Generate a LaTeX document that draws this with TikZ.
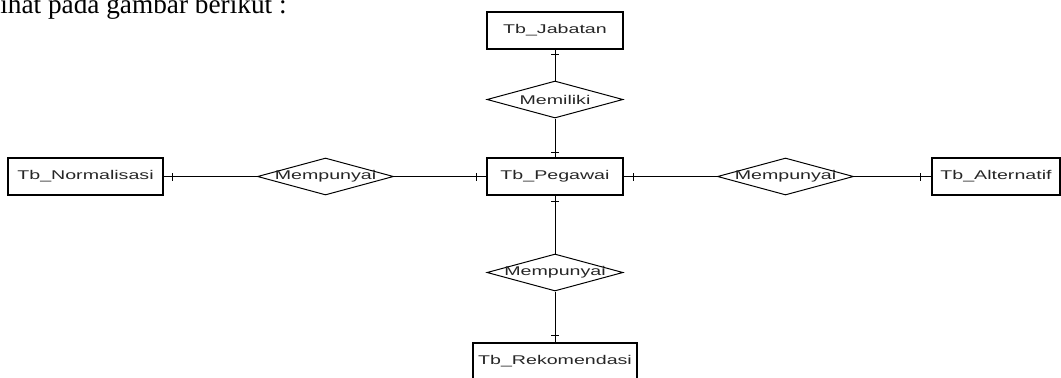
\documentclass[tikz,border=0pt]{standalone}
\usepackage{fontspec}
\usetikzlibrary{shapes.geometric,decorations.markings}
\newfontfamily\erfont[FakeStretch=1.55]{Liberation Sans}
\newfontfamily\halfont{Liberation Serif}

\tikzset{
  tabel/.style={draw, line width=0.8pt, inner sep=0pt, minimum width=3.4cm, minimum height=0.925cm,
    font=\erfont\fontsize{9}{11}\selectfont, text=black!85},
  relasi/.style={draw, shape=diamond, line width=0.7pt, inner sep=0pt, minimum width=3.4cm, minimum height=0.925cm,
    font=\erfont\fontsize{9}{11}\selectfont, text=black!85},
  garis/.style={line width=0.7pt},
  satuawal/.style={postaction={decorate,decoration={markings,
    mark=at position #1 with {\draw[line width=0.7pt] (0,-0.1cm) -- (0,0.1cm);}}}},
  satuakhir/.style={postaction={decorate,decoration={markings,
    mark=at position -#1 with {\draw[line width=0.7pt] (0,-0.1cm) -- (0,0.1cm);}}}}
}

\begin{document}
\begin{tikzpicture}[x=0.025cm,y=-0.025cm]
\useasboundingbox (0,0) rectangle (1061,377);

% teks halaman
\node[anchor=base west, inner sep=0pt, font=\halfont\fontsize{19.4}{23}\selectfont] (teks) at (0,13) {ihat pada gambar berikut :};

% tabel
\node[tabel] (jabatan) at (555,30.5) {Tb\_Jabatan};
\node[tabel] (pegawai) at (555,176.5) {Tb\_Pegawai};
\node[tabel, minimum width=3.875cm] (normalisasi) at (85.5,176.5) {Tb\_Normalisasi};
\node[tabel, minimum width=3.2cm] (alternatif) at (996,176.5) {Tb\_Alternatif};
\node[tabel, minimum width=4.1cm] (rekomendasi) at (555,361.5) {Tb\_Rekomendasi};

% relasi
\node[relasi] (memiliki) at (555,99.5) {\makebox[0pt]{Memiliki}};
\node[relasi] (mpkiri) at (325.5,176.5) {\makebox[0pt]{Mempunyai}};
\node[relasi] (mpkanan) at (785.5,176.5) {\makebox[0pt]{Mempunyai}};
\node[relasi] (mpbawah) at (555,272.5) {\makebox[0pt]{Mempunyai}};

% garis
\draw[garis, satuawal=0.12cm] (jabatan.south) -- (memiliki.north);
\draw[garis, satuakhir=0.13cm] (memiliki.south) -- (pegawai.north);
\draw[garis, satuawal=0.15cm] (pegawai.south) -- (mpbawah.north);
\draw[garis, satuakhir=0.18cm] (mpbawah.south) -- (rekomendasi.north);
\draw[garis, satuawal=0.23cm] (normalisasi.east) -- (mpkiri.west);
\draw[garis, satuakhir=0.25cm] (mpkiri.east) -- (pegawai.west);
\draw[garis, satuawal=0.25cm] (pegawai.east) -- (mpkanan.west);
\draw[garis, satuakhir=0.27cm] (mpkanan.east) -- (alternatif.west);

\end{tikzpicture}
\end{document}
